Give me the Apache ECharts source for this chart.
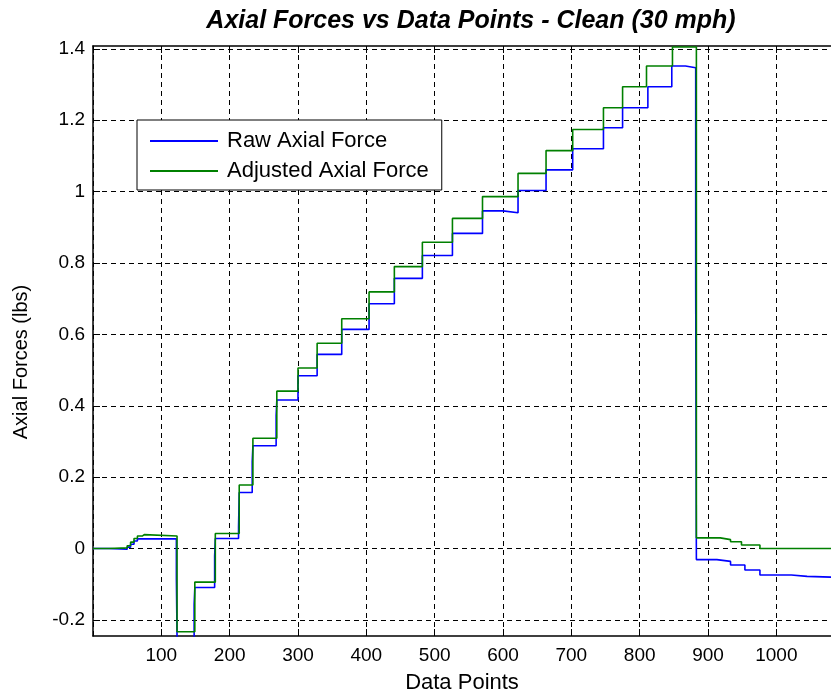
<!DOCTYPE html>
<html><head><meta charset="utf-8">
<script src="https://cdn.jsdelivr.net/npm/echarts@6/dist/echarts.min.js"></script>
<style>html,body{margin:0;padding:0;background:#fff}#c{width:831px;height:700px}</style>
</head><body><div id="c"></div>
<script>
const titleText = 'Axial Forces vs Data Points - Clean (30 mph)';
const xAxisName = 'Data Points';
const yAxisName = 'Axial Forces (lbs)';
const seriesNames = ['Raw Axial Force', 'Adjusted Axial Force'];

const xTickValues = [100, 200, 300, 400, 500, 600, 700, 800, 900, 1000];
const yTickValues = [-0.2, 0, 0.2, 0.4, 0.6, 0.8, 1, 1.2, 1.4];
const yTickLabels = ['-0.2', '0', '0.2', '0.4', '0.6', '0.8', '1', '1.2', '1.4'];

// Raw axial force: step starts (data point index) and held values
const rawX = [0, 23, 50, 55, 60, 65, 122, 123, 148, 149, 178, 179, 213, 214, 233, 234, 268, 269,
  300, 328, 364, 404, 441, 482, 526, 570, 600, 622, 663, 702, 747, 775, 812, 847, 867, 882, 883,
  913, 933, 954, 976, 1022, 1045, 1080];
const rawY = [0, -0.002, 0.004, 0.012, 0.021, 0.027, -0.083, -0.25, -0.156, -0.109, -0.021, 0.028,
  0.060, 0.157, 0.244, 0.288, 0.373, 0.416, 0.484, 0.544, 0.614, 0.686, 0.757, 0.821, 0.883, 0.946,
  0.941, 1.003, 1.061, 1.120, 1.179, 1.235, 1.294, 1.352, 1.347, 0.733, -0.031, -0.036, -0.046,
  -0.060, -0.074, -0.078, -0.080, -0.080];

// Adjusted axial force
const adjX = [0, 23, 50, 55, 60, 65, 72, 75, 123, 149, 179, 214, 234, 269, 300, 328, 364, 404, 441,
  482, 526, 570, 622, 663, 702, 747, 775, 810, 848, 883, 918, 933, 949, 976, 1080];
const adjY = [0, 0.002, 0.008, 0.018, 0.028, 0.035, 0.039, 0.035, -0.233, -0.094, 0.042, 0.178,
  0.309, 0.441, 0.506, 0.575, 0.644, 0.719, 0.790, 0.858, 0.925, 0.986, 1.051, 1.115, 1.174, 1.235,
  1.294, 1.352, 1.405, 0.030, 0.025, 0.019, 0.010, 0.0, 0.0];

const FONT = "'Liberation Sans', Arial, sans-serif";
const X_MIN = 0, X_MAX = 1080;
const Y_MIN = -0.245, Y_MAX = 1.408;
const G_LEFT = 93, G_TOP = 46, G_W = 749, G_H = 590;
const pxPerY = G_H / (Y_MAX - Y_MIN);
const B_TOP = G_TOP + (Y_MAX - 1.4) * pxPerY;
const B_H = 1.6 * pxPerY;

const dash = { color: '#000', width: 1, type: [5, 4] };

const chart = echarts.init(document.getElementById('c'), null, { renderer: 'canvas' });
chart.setOption({
  animation: false,
  backgroundColor: '#fff',
  textStyle: { fontFamily: FONT },
  title: {
    text: titleText, left: 466, top: 4, textAlign: 'center',
    textStyle: { fontFamily: FONT, fontSize: 25, fontWeight: 'bold', fontStyle: 'italic', color: '#000' }
  },
  grid: [
    { left: G_LEFT, top: G_TOP, width: G_W, height: G_H, containLabel: false },
    { left: G_LEFT, top: B_TOP, width: G_W, height: B_H, containLabel: false }
  ],
  legend: {
    data: seriesNames, orient: 'vertical', left: 137, top: 120, icon: 'rect',
    backgroundColor: '#fff', borderColor: '#000', borderWidth: 1,
    padding: [10, 13, 8, 13], itemWidth: 68, itemHeight: 2, itemGap: 8,
    textStyle: { fontFamily: FONT, fontSize: 22, lineHeight: 22, color: '#000', padding: [0, 0, 0, 4] }
  },
  graphic: [{
    type: 'text', z: 10,
    x: 21, y: 362,
    rotation: Math.PI / 2,
    style: { text: yAxisName, font: "20px 'Liberation Sans', Arial, sans-serif", fill: '#000',
      align: 'center', verticalAlign: 'middle' }
  }],
  xAxis: [
    {
      type: 'value', gridIndex: 0, position: 'bottom', min: X_MIN, max: X_MAX, interval: 100,
      axisLine: { show: true, onZero: false, lineStyle: { color: '#000', width: 1.5 } },
      axisTick: { show: true, inside: true, length: 7, lineStyle: { color: '#000' } },
      axisLabel: {
        show: true, showMinLabel: false, showMaxLabel: false, margin: 10,
        fontFamily: FONT, fontSize: 19, color: '#000',
        formatter: v => (xTickValues.indexOf(v) >= 0 ? String(v) : '')
      },
      splitLine: { show: true, lineStyle: dash },
      name: xAxisName, nameLocation: 'middle', nameGap: 36,
      nameTextStyle: { fontFamily: FONT, fontSize: 22, color: '#000' }
    },
    {
      type: 'value', gridIndex: 0, position: 'top', min: X_MIN, max: X_MAX, interval: 100,
      axisLine: { show: true, onZero: false, lineStyle: { color: '#000', width: 1.5 } },
      axisTick: { show: true, inside: true, length: 7, lineStyle: { color: '#000' } },
      axisLabel: { show: false }, splitLine: { show: false }
    },
    {
      type: 'value', gridIndex: 1, min: X_MIN, max: X_MAX, show: false
    }
  ],
  yAxis: [
    {
      type: 'value', gridIndex: 0, min: Y_MIN, max: Y_MAX,
      axisLine: { show: true, onZero: false, lineStyle: { color: '#000', width: 1.5 } },
      axisTick: { show: false }, axisLabel: { show: false }, splitLine: { show: false }
    },
    {
      type: 'value', gridIndex: 1, min: -0.2, max: 1.4, interval: 0.2,
      axisLine: { show: false },
      axisTick: { show: true, inside: true, length: 7, lineStyle: { color: '#000' } },
      axisLabel: {
        show: true, margin: 8, fontFamily: FONT, fontSize: 19, color: '#000',
        formatter: v => {
          const i = yTickValues.findIndex(t => Math.abs(t - v) < 1e-6);
          return i >= 0 ? yTickLabels[i] : '';
        }
      },
      splitLine: { show: true, lineStyle: dash }
    }
  ],
  series: [
    {
      name: seriesNames[0], type: 'line', xAxisIndex: 0, yAxisIndex: 0, step: 'end',
      symbol: 'none', clip: true, color: '#0000ff',
      lineStyle: { color: '#0000ff', width: 1.6 },
      data: rawX.map((x, i) => [x, rawY[i]])
    },
    {
      name: seriesNames[1], type: 'line', xAxisIndex: 0, yAxisIndex: 0, step: 'end',
      symbol: 'none', clip: true, color: '#008000',
      lineStyle: { color: '#008000', width: 1.6 },
      data: adjX.map((x, i) => [x, adjY[i]])
    }
  ]
});
</script>
</body></html>
